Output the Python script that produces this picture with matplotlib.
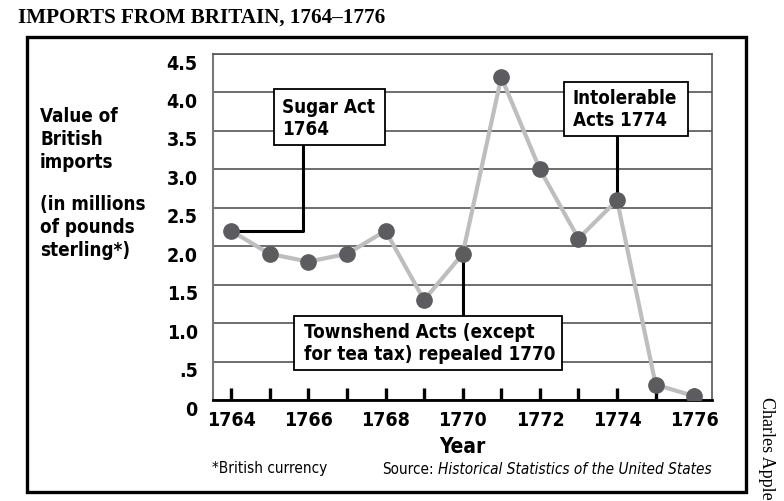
import matplotlib
matplotlib.use("Agg")
import matplotlib.pyplot as plt
import matplotlib.transforms as mtransforms
from matplotlib.patches import Rectangle

# data
years = list(range(1764, 1777))
imports = [2.2, 1.9, 1.8, 1.9, 2.2, 1.3, 1.9, 4.2, 3.0, 2.1, 2.6, 0.2, 0.05]
y_ticks = [0, 0.5, 1.0, 1.5, 2.0, 2.5, 3.0, 3.5, 4.0, 4.5]
y_tick_labels = ["0", ".5", "1.0", "1.5", "2.0", "2.5", "3.0", "3.5", "4.0", "4.5"]
x_tick_years = [1764, 1766, 1768, 1770, 1772, 1774, 1776]

COND = ["DejaVu Sans"]
SERIF = ["Liberation Serif", "DejaVu Serif"]

W, H = 784, 501


def px(x, y):
    return x / W, 1 - y / H


fig = plt.figure(figsize=(W / 100, H / 100), dpi=100)
ax = fig.add_axes([213 / W, 1 - 400 / H, 499 / W, 346 / H])

ax.plot(years, imports, color="#bebebe", lw=3, zorder=3)
ax.plot(years, imports, "o", ms=11, color="#5c5c60", zorder=6)

ax.set_xlim(1763.53, 1776.46)
ax.set_ylim(0, 4.5)

ax.set_yticks(y_ticks)
ax.set_yticklabels(y_tick_labels, fontfamily=COND, fontweight="bold", fontsize=14,
                   fontstretch="condensed")
ax.yaxis.grid(True, color="#555555", lw=1.2)
ax.set_axisbelow(True)
ax.tick_params(axis="y", length=0, pad=11)
shift = mtransforms.ScaledTranslation(0, -8 / 100, fig.dpi_scale_trans)
for lbl in ax.get_yticklabels():
    lbl.set_transform(lbl.get_transform() + shift)

ax.set_xticks(x_tick_years)
ax.set_xticks(years, minor=True)
ax.set_xticklabels([str(y) for y in x_tick_years], fontfamily=COND,
                   fontweight="bold", fontsize=14, fontstretch="condensed")
ax.tick_params(axis="x", which="both", direction="in", length=9, width=2.4,
               color="black", pad=8)

for side in ["top", "right"]:
    ax.spines[side].set_color("#555555")
    ax.spines[side].set_linewidth(1.2)
ax.spines["left"].set_color("#777777")
ax.spines["left"].set_linewidth(1.5)
ax.spines["bottom"].set_color("black")
ax.spines["bottom"].set_linewidth(2)

box_kw = dict(facecolor="white", edgecolor="black", lw=1.3, zorder=7)
txt_kw = dict(fontfamily=COND, fontweight="bold", fontsize=13.5, va="center",
              ha="left", linespacing=1.2, zorder=8, fontstretch="condensed")

# Sugar Act 1764
ax.add_patch(Rectangle((1765.11, 3.31), 2.88, 0.74, **box_kw))
ax.text(1765.33, 3.66, "Sugar Act\n1764", **txt_kw)
ax.plot([1765.87, 1765.87, years[0]], [3.31, imports[0], imports[0]],
        color="black", lw=2.2, zorder=5)

# Intolerable Acts 1774
ax.add_patch(Rectangle((1772.63, 3.44), 3.21, 0.70, **box_kw))
ax.text(1772.85, 3.78, "Intolerable\nActs 1774", **txt_kw)
ax.plot([1774, 1774], [3.44, imports[10]], color="black", lw=2.2, zorder=5)

# Townshend Acts repealed 1770
ax.add_patch(Rectangle((1765.63, 0.39), 6.95, 0.70, **box_kw))
ax.text(1765.9, 0.73, "Townshend Acts (except\nfor tea tax) repealed 1770", **txt_kw)
ax.plot([1770, 1770], [imports[6], 1.09], color="black", lw=2.2, zorder=5)

# outer frame
fx0, fy1 = px(27, 37)
fx1, fy0 = px(746, 492)
fig.patches.append(Rectangle((fx0, fy0), fx1 - fx0, fy1 - fy0, transform=fig.transFigure,
                             fill=False, edgecolor="black", lw=2.4))

fig.text(*px(18, 18), "IMPORTS FROM BRITAIN, 1764\u20131776", fontfamily=SERIF,
         fontweight="bold", fontsize=15.2, va="center", ha="left")

fig.text(*px(40, 107), "Value of\nBritish\nimports", fontfamily=COND, fontweight="bold",
         fontsize=13.5, va="top", ha="left", linespacing=1.25, fontstretch="condensed")
fig.text(*px(40, 195), "(in millions\nof pounds\nsterling*)", fontfamily=COND,
         fontweight="bold", fontsize=13.5, va="top", ha="left", linespacing=1.25,
         fontstretch="condensed")

fig.text(*px(462, 447), "Year", fontfamily=COND, fontweight="bold", fontsize=15,
         va="center", ha="center", fontstretch="condensed")

fig.text(*px(212, 469), "*British currency", fontfamily=COND, fontsize=11,
         va="center", ha="left", fontstretch="condensed")
src = fig.text(*px(712, 469), "Historical Statistics of the United States",
               fontfamily=COND, fontstyle="italic", fontsize=11, va="center", ha="right",
               fontstretch="condensed")
fig.canvas.draw()
bb = src.get_window_extent()
fig.text(bb.x0 / W - 5 / W, 1 - 469 / H, "Source:", fontfamily=COND, fontsize=11,
         va="center", ha="right", fontstretch="condensed")

fig.text(*px(766, 448), "Charles Apple", fontfamily=SERIF, fontsize=13,
         rotation=270, va="center", ha="center")

fig.savefig("out.png", dpi=100)
